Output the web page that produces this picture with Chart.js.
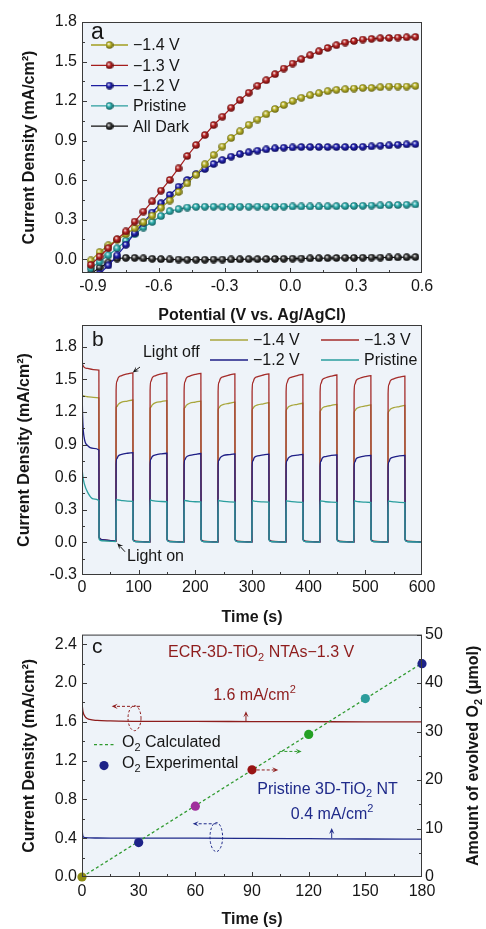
<!DOCTYPE html>
<html>
<head>
<meta charset="utf-8">
<script src="https://cdn.jsdelivr.net/npm/chart.js@4.4.1/dist/chart.umd.min.js"></script>
<style>
    body { margin: 0; background: #fff; width: 486px; height: 929px; position: relative; overflow: hidden; }
    canvas { position: absolute; left: 0; }
</style>
</head>
<body>
<canvas id="chartA" width="486" height="330" style="top:0"></canvas>
<canvas id="chartB" width="486" height="330" style="top:300px"></canvas>
<canvas id="chartC" width="486" height="309" style="top:620px"></canvas>
<script>
var FONT = '"Liberation Sans", Arial, Helvetica, sans-serif';
var INK = '#161616';
var PLOT_BG = '#eef3f9';

// ---- panel a: J-V curves
var potentials = [-0.91, -0.87, -0.83, -0.79, -0.75, -0.71, -0.67, -0.63, -0.59, -0.55, -0.51, -0.47, -0.43,
    -0.39, -0.35, -0.31, -0.27, -0.23, -0.19, -0.15, -0.11, -0.07, -0.03, 0.01, 0.05, 0.09, 0.13, 0.17,
    0.21, 0.25, 0.29, 0.33, 0.37, 0.41, 0.45, 0.49, 0.53, 0.57];
var jv14 = [-0.01, 0.053, 0.105, 0.145, 0.19, 0.235, 0.28, 0.33, 0.39, 0.445, 0.51, 0.575, 0.64,
    0.72, 0.79, 0.855, 0.92, 0.97, 1.02, 1.06, 1.10, 1.14, 1.17, 1.20, 1.225, 1.245, 1.26, 1.275,
    1.285, 1.29, 1.295, 1.30, 1.30, 1.305, 1.31, 1.31, 1.31, 1.315];
var jv13 = [-0.043, 0.02, 0.083, 0.152, 0.21, 0.285, 0.361, 0.439, 0.52, 0.601, 0.689, 0.783, 0.866,
    0.942, 1.018, 1.081, 1.149, 1.207, 1.263, 1.316, 1.358, 1.404, 1.447, 1.485, 1.518, 1.548, 1.578, 1.603,
    1.624, 1.644, 1.656, 1.667, 1.672, 1.677, 1.679, 1.682, 1.684, 1.687];
var jv12 = [-0.17, -0.111, -0.048, 0.028, 0.109, 0.197, 0.278, 0.354, 0.424, 0.487, 0.55, 0.601, 0.646,
    0.684, 0.722, 0.752, 0.778, 0.798, 0.811, 0.823, 0.833, 0.841, 0.846, 0.848, 0.851, 0.851, 0.851, 0.851,
    0.851, 0.851, 0.851, 0.853, 0.856, 0.861, 0.864, 0.868, 0.871, 0.873];
var jvPristine = [-0.07, -0.02, 0.03, 0.082, 0.14, 0.19, 0.24, 0.283, 0.327, 0.364, 0.38, 0.392, 0.397,
    0.398, 0.398, 0.398, 0.398, 0.398, 0.398, 0.399, 0.399, 0.399, 0.399, 0.40, 0.40, 0.40, 0.40, 0.401,
    0.402, 0.403, 0.404, 0.405, 0.407, 0.408, 0.41, 0.411, 0.413, 0.415];
var jvDark = [-0.11, -0.065, -0.025, 0.005, 0.01, 0.01, 0.006, 0.003, 0.0, -0.002, -0.003, -0.004, -0.004,
    -0.004, -0.003, -0.003, -0.002, -0.001, 0.0, 0.0, 0.001, 0.002, 0.003, 0.004, 0.005, 0.006, 0.007, 0.008,
    0.009, 0.01, 0.01, 0.011, 0.012, 0.012, 0.013, 0.014, 0.015, 0.016];
var potentialTicks = [-0.9, -0.6, -0.3, 0.0, 0.3, 0.6];
var jTicksA = [0.0, 0.3, 0.6, 0.9, 1.2, 1.5, 1.8];

// ---- panel b: chopped light transients
var times = [0, 0.5, 1.5, 4, 10, 20, 29.8, 30.2, 35, 59.8,
    60.2, 61.5, 64, 70, 80, 89.8, 90.2, 95, 119.8,
    120.2, 121.5, 124, 130, 140, 149.8, 150.2, 155, 179.8,
    180.2, 181.5, 184, 190, 200, 209.8, 210.2, 215, 239.8,
    240.2, 241.5, 244, 250, 260, 269.8, 270.2, 275, 299.8,
    300.2, 301.5, 304, 310, 320, 329.8, 330.2, 335, 359.8,
    360.2, 361.5, 364, 370, 380, 389.8, 390.2, 395, 419.8,
    420.2, 421.5, 424, 430, 440, 449.8, 450.2, 455, 479.8,
    480.2, 481.5, 484, 490, 500, 509.8, 510.2, 515, 539.8,
    540.2, 541.5, 544, 550, 560, 569.8, 570.2, 575, 599.8];
var it14 = [1.36, 1.355, 1.35, 1.345, 1.34, 1.335, 1.33, 0.04, 0.02, 0.01,
    1.24, 1.25, 1.27, 1.29, 1.30, 1.31, 0.03, 0.01, 0.005,
    1.235, 1.245, 1.265, 1.285, 1.295, 1.305, 0.03, 0.01, 0.005,
    1.23, 1.24, 1.26, 1.28, 1.29, 1.30, 0.03, 0.01, 0.005,
    1.22, 1.235, 1.255, 1.27, 1.28, 1.29, 0.03, 0.01, 0.005,
    1.215, 1.23, 1.25, 1.265, 1.275, 1.285, 0.03, 0.01, 0.005,
    1.21, 1.225, 1.245, 1.26, 1.27, 1.28, 0.03, 0.01, 0.005,
    1.20, 1.215, 1.235, 1.25, 1.26, 1.27, 0.03, 0.01, 0.005,
    1.195, 1.21, 1.23, 1.245, 1.255, 1.265, 0.03, 0.01, 0.005,
    1.19, 1.205, 1.225, 1.24, 1.25, 1.26, 0.03, 0.01, 0.005];
var it13 = [1.95, 1.67, 1.63, 1.61, 1.60, 1.59, 1.585, 0.05, 0.025, 0.012,
    1.40, 1.48, 1.515, 1.535, 1.55, 1.56, 0.03, 0.01, 0.005,
    1.40, 1.48, 1.515, 1.535, 1.55, 1.56, 0.03, 0.01, 0.005,
    1.395, 1.475, 1.51, 1.53, 1.545, 1.555, 0.03, 0.01, 0.005,
    1.39, 1.47, 1.505, 1.525, 1.54, 1.55, 0.03, 0.01, 0.005,
    1.39, 1.47, 1.505, 1.525, 1.54, 1.55, 0.03, 0.01, 0.005,
    1.385, 1.465, 1.50, 1.52, 1.535, 1.545, 0.03, 0.01, 0.005,
    1.38, 1.46, 1.495, 1.515, 1.53, 1.54, 0.03, 0.01, 0.005,
    1.375, 1.455, 1.49, 1.51, 1.525, 1.535, 0.03, 0.01, 0.005,
    1.37, 1.45, 1.485, 1.505, 1.52, 1.53, 0.03, 0.01, 0.005];
var it12 = [1.55, 1.30, 1.10, 0.96, 0.89, 0.865, 0.85, 0.045, 0.025, 0.012,
    0.72, 0.77, 0.795, 0.81, 0.82, 0.825, 0.025, 0.008, 0.003,
    0.715, 0.765, 0.79, 0.805, 0.815, 0.82, 0.025, 0.008, 0.003,
    0.71, 0.76, 0.785, 0.80, 0.81, 0.818, 0.025, 0.008, 0.003,
    0.705, 0.755, 0.78, 0.80, 0.808, 0.815, 0.025, 0.008, 0.003,
    0.70, 0.75, 0.78, 0.795, 0.805, 0.812, 0.025, 0.008, 0.003,
    0.70, 0.75, 0.775, 0.795, 0.803, 0.81, 0.025, 0.008, 0.003,
    0.695, 0.745, 0.775, 0.79, 0.80, 0.805, 0.025, 0.008, 0.003,
    0.69, 0.74, 0.77, 0.785, 0.795, 0.80, 0.025, 0.008, 0.003,
    0.69, 0.74, 0.77, 0.785, 0.795, 0.80, 0.025, 0.008, 0.003];
var itPristine = [0.70, 0.66, 0.61, 0.54, 0.46, 0.40, 0.385, 0.03, 0.015, 0.008,
    0.395, 0.392, 0.39, 0.385, 0.38, 0.378, 0.02, 0.006, 0.002,
    0.39, 0.388, 0.385, 0.38, 0.376, 0.374, 0.02, 0.006, 0.002,
    0.388, 0.386, 0.383, 0.378, 0.374, 0.372, 0.02, 0.006, 0.002,
    0.388, 0.385, 0.382, 0.377, 0.373, 0.371, 0.02, 0.006, 0.002,
    0.386, 0.384, 0.38, 0.376, 0.372, 0.37, 0.02, 0.006, 0.002,
    0.385, 0.383, 0.38, 0.375, 0.371, 0.369, 0.02, 0.006, 0.002,
    0.384, 0.382, 0.379, 0.374, 0.37, 0.368, 0.02, 0.006, 0.002,
    0.383, 0.381, 0.378, 0.374, 0.37, 0.367, 0.02, 0.006, 0.002,
    0.382, 0.38, 0.377, 0.373, 0.369, 0.366, 0.02, 0.006, 0.002];
var timeTicksB = [0, 100, 200, 300, 400, 500, 600];
var jTicksB = [-0.3, 0.0, 0.3, 0.6, 0.9, 1.2, 1.5, 1.8];

// ---- panel c: stability + O2 evolution
var stabTimes = [0, 0.4, 1, 2, 4, 8, 15, 30, 60, 90, 120, 150, 180];
var stabECR = [1.80, 1.72, 1.675, 1.645, 1.625, 1.615, 1.61, 1.605, 1.605, 1.603, 1.602, 1.60, 1.60];
var stabPristine = [0.50, 0.43, 0.41, 0.405, 0.403, 0.402, 0.401, 0.40, 0.40, 0.398, 0.395, 0.392, 0.39];
var o2Times = [0, 30, 60, 90, 120, 150, 180];
var o2Experimental = [0, 7.1, 14.6, 22.1, 29.4, 36.8, 44.0];
var o2CalcTimes = [0, 180];
var o2Calculated = [0, 44.1];
var o2Colors = ['#8e8c12', '#1d2288', '#a0309c', '#981414', '#24a024', '#2c9c9c', '#1d2288'];
var timeTicksC = [0, 30, 60, 90, 120, 150, 180];
var jTicksC = [0.0, 0.4, 0.8, 1.2, 1.6, 2.0, 2.4];
var o2Ticks = [0, 10, 20, 30, 40, 50];

function pts(xs, ys) {
    return xs.map(function (x, i) { return { x: x, y: ys[i] }; });
}

function makeBall(base, dark) {
    var c = document.createElement('canvas');
    c.width = 8;
    c.height = 8;
    var g = c.getContext('2d');
    var grad = g.createRadialGradient(3, 2.7, 0.2, 4, 4, 4);
    grad.addColorStop(0, '#ffffff');
    grad.addColorStop(0.4, base);
    grad.addColorStop(1, dark);
    g.fillStyle = grad;
    g.beginPath();
    g.arc(4, 4, 3.8, 0, Math.PI * 2);
    g.fill();
    return c;
}

function linScale(min, max, ticks, digits, title, pad, titlePad, size, isX, pos) {
    return {
        type: 'linear', position: pos, min: min, max: max, bounds: 'data',
        afterBuildTicks: function (sc) { sc.ticks = ticks.map(function (v) { return { value: v }; }); },
        ticks: {
            color: INK, font: { family: FONT, size: 16 }, padding: pad, autoSkip: false, maxRotation: 0,
            callback: function (v) { return Number(v).toFixed(digits); }
        },
        grid: { display: false, drawTicks: false },
        border: { display: false },
        title: title ? { display: true, text: title, color: INK, font: { family: FONT, size: 16, weight: 'bold' }, padding: titlePad } : { display: false },
        afterFit: function (sc) { if (isX) { sc.height = size; } else { sc.width = size; } }
    };
}

function richText(ctx, parts, x, y, size, color, align, weight) {
    var w = weight ? weight + ' ' : '';
    var widths = [];
    var total = 0;
    parts.forEach(function (p) {
        ctx.font = w + (p[1] ? Math.round(size * 0.68) : size) + 'px ' + FONT;
        var width = ctx.measureText(p[0]).width;
        widths.push(width);
        total += width;
    });
    var cx = align === 'center' ? x - total / 2 : x;
    ctx.fillStyle = color;
    ctx.textBaseline = 'middle';
    ctx.textAlign = 'left';
    parts.forEach(function (p, i) {
        ctx.font = w + (p[1] ? Math.round(size * 0.68) : size) + 'px ' + FONT;
        var dy = p[1] < 0 ? size * 0.32 : (p[1] > 0 ? -size * 0.36 : 0);
        ctx.fillText(p[0], cx, y + dy);
        cx += widths[i];
    });
}

function arrow(ctx, x1, y1, x2, y2, color, dash) {
    var ang = Math.atan2(y2 - y1, x2 - x1);
    var head = 6, half = 2.6;
    var c = Math.cos(ang), s = Math.sin(ang);
    ctx.save();
    ctx.strokeStyle = color;
    ctx.fillStyle = color;
    ctx.lineWidth = 1;
    ctx.setLineDash(dash ? [3, 2] : []);
    ctx.beginPath();
    ctx.moveTo(x1, y1);
    ctx.lineTo(x2 - c * head * 0.7, y2 - s * head * 0.7);
    ctx.stroke();
    ctx.setLineDash([]);
    ctx.beginPath();
    ctx.moveTo(x2, y2);
    ctx.lineTo(x2 - head * c + half * s, y2 - head * s - half * c);
    ctx.lineTo(x2 - head * 0.6 * c, y2 - head * 0.6 * s);
    ctx.lineTo(x2 - head * c - half * s, y2 - head * s + half * c);
    ctx.closePath();
    ctx.fill();
    ctx.restore();
}

function dashedEllipse(ctx, cx, cy, rx, ry, color) {
    ctx.save();
    ctx.strokeStyle = color;
    ctx.lineWidth = 1;
    ctx.setLineDash([2.5, 2]);
    ctx.beginPath();
    ctx.ellipse(cx, cy, rx, ry, 0, 0, Math.PI * 2);
    ctx.stroke();
    ctx.restore();
}

// plot background, frame and inward ticks
var framePlugin = {
    id: 'frame',
    beforeDraw: function (chart) {
        var a = chart.chartArea, ctx = chart.ctx;
        ctx.save();
        ctx.fillStyle = PLOT_BG;
        ctx.fillRect(a.left, a.top, a.right - a.left, a.bottom - a.top);
        ctx.restore();
    },
    afterDatasetsDraw: function (chart) {
        var a = chart.chartArea, ctx = chart.ctx;
        ctx.save();
        ctx.strokeStyle = '#3a3a3a';
        ctx.lineWidth = 1;
        ctx.strokeRect(a.left + 0.5, a.top + 0.5, a.right - a.left - 1, a.bottom - a.top - 1);
        Object.keys(chart.scales).forEach(function (id) {
            var sc = chart.scales[id];
            var vals = sc.ticks.map(function (t) { return t.value; });
            var marks = vals.map(function (v) { return [v, 5]; });
            for (var i = 0; i < vals.length - 1; i++) {
                marks.push([(vals[i] + vals[i + 1]) / 2, 3]);
            }
            ctx.beginPath();
            marks.forEach(function (m) {
                var p = Math.round(sc.getPixelForValue(m[0])) + 0.5;
                if (sc.isHorizontal()) {
                    if (p < a.left || p > a.right) return;
                    ctx.moveTo(p, a.bottom);
                    ctx.lineTo(p, a.bottom - m[1]);
                } else if (sc.position === 'right') {
                    if (p < a.top || p > a.bottom) return;
                    ctx.moveTo(a.right, p);
                    ctx.lineTo(a.right - m[1], p);
                } else {
                    if (p < a.top || p > a.bottom) return;
                    ctx.moveTo(a.left, p);
                    ctx.lineTo(a.left + m[1], p);
                }
            });
            ctx.stroke();
        });
        ctx.restore();
    }
};

// ---------------- panel a
var ballsA = {
    y14: makeBall('#bcb62c', '#5e5c0c'),
    y13: makeBall('#b82424', '#5a0808'),
    y12: makeBall('#2424b4', '#08084e'),
    pr: makeBall('#34b4b4', '#0c5656'),
    dk: makeBall('#3a3a3a', '#000000')
};

function jvSet(label, ys, color, ball, order) {
    return {
        label: label, data: pts(potentials, ys), borderColor: color, borderWidth: 1.2,
        pointStyle: ball, pointRadius: 4, order: order, tension: 0
    };
}

var legendA = {
    id: 'legendA',
    afterDraw: function (chart) {
        var a = chart.chartArea, ctx = chart.ctx;
        ctx.save();
        ctx.font = '23px ' + FONT;
        ctx.fillStyle = INK;
        ctx.textBaseline = 'middle';
        ctx.fillText('a', a.left + 9, a.top + 11);
        chart.data.datasets.forEach(function (ds, i) {
            var y = a.top + 23 + i * 20.3;
            ctx.strokeStyle = ds.borderColor;
            ctx.lineWidth = 1.3;
            ctx.beginPath();
            ctx.moveTo(a.left + 9, y);
            ctx.lineTo(a.left + 46, y);
            ctx.stroke();
            ctx.drawImage(ds.pointStyle, a.left + 27.5 - 4, y - 4);
            ctx.font = '16px ' + FONT;
            ctx.fillStyle = INK;
            ctx.fillText(ds.label, a.left + 51, y + 1);
        });
        ctx.restore();
    }
};

new Chart(document.getElementById('chartA'), {
    type: 'line',
    data: {
        datasets: [
            jvSet('\u22121.4 V', jv14, '#a29e1e', ballsA.y14, 1),
            jvSet('\u22121.3 V', jv13, '#a51c1c', ballsA.y13, 0),
            jvSet('\u22121.2 V', jv12, '#1c1ca0', ballsA.y12, 2),
            jvSet('Pristine', jvPristine, '#2a9e9e', ballsA.pr, 3),
            jvSet('All Dark', jvDark, '#111111', ballsA.dk, 4)
        ]
    },
    options: {
        responsive: false, animation: false, events: [],
        layout: { padding: { top: 22, right: 64, bottom: 0, left: 0 } },
        plugins: { legend: { display: false }, tooltip: { enabled: false } },
        scales: {
            x: linScale(-0.95, 0.6, potentialTicks, 1, 'Potential (V vs. Ag/AgCl)', 4, { top: 0, bottom: 5 }, 57, true, 'bottom'),
            y: linScale(-0.105, 1.8, jTicksA, 1, 'Current Density (mA/cm\u00b2)', 5, { top: 20, bottom: 0 }, 82, false, 'left')
        }
    },
    plugins: [framePlugin, legendA]
});

// ---------------- panel b
function itSet(label, ys, color, order) {
    return {
        label: label, data: pts(times, ys), borderColor: color, borderWidth: 1.3,
        pointRadius: 0, order: order, cubicInterpolationMode: 'monotone'
    };
}

var notesB = {
    id: 'notesB',
    afterDraw: function (chart) {
        var a = chart.chartArea, ctx = chart.ctx;
        var X = chart.scales.x, Y = chart.scales.y;
        ctx.save();
        ctx.font = '21px ' + FONT;
        ctx.fillStyle = INK;
        ctx.textBaseline = 'middle';
        ctx.fillText('b', a.left + 10, a.top + 15);
        var spots = [[128, 15], [239, 15], [128, 35], [239, 35]];
        var byLabel = {};
        chart.data.datasets.forEach(function (ds) { byLabel[ds.label] = ds; });
        ['\u22121.4 V', '\u22121.3 V', '\u22121.2 V', 'Pristine'].forEach(function (label, i) {
            var ds = byLabel[label], sx = a.left + spots[i][0], sy = a.top + spots[i][1];
            ctx.strokeStyle = ds.borderColor;
            ctx.lineWidth = 1.3;
            ctx.beginPath();
            ctx.moveTo(sx, sy);
            ctx.lineTo(sx + 38, sy);
            ctx.stroke();
            ctx.font = '16px ' + FONT;
            ctx.fillStyle = INK;
            ctx.fillText(label, sx + 43, sy + 1);
        });
        ctx.font = '16px ' + FONT;
        ctx.fillText('Light off', X.getPixelForValue(107.6), Y.getPixelForValue(1.75));
        arrow(ctx, X.getPixelForValue(102.3), Y.getPixelForValue(1.613), X.getPixelForValue(89.5), Y.getPixelForValue(1.564), INK, false);
        ctx.fillStyle = INK;
        ctx.font = '16px ' + FONT;
        ctx.fillText('Light on', X.getPixelForValue(79.4), Y.getPixelForValue(-0.135));
        arrow(ctx, X.getPixelForValue(75.9), Y.getPixelForValue(-0.086), X.getPixelForValue(62.3), Y.getPixelForValue(-0.009), INK, false);
        ctx.restore();
    }
};

new Chart(document.getElementById('chartB'), {
    type: 'line',
    data: {
        datasets: [
            itSet('\u22121.4 V', it14, '#a8a63c', 3),
            itSet('\u22121.3 V', it13, '#a42c2a', 2),
            itSet('\u22121.2 V', it12, '#1e1e86', 1),
            itSet('Pristine', itPristine, '#2a9e9e', 0)
        ]
    },
    options: {
        responsive: false, animation: false, events: [],
        layout: { padding: { top: 25, right: 64, bottom: 0, left: 0 } },
        plugins: { legend: { display: false }, tooltip: { enabled: false } },
        scales: {
            x: linScale(0, 600, timeTicksB, 0, 'Time (s)', 3, { top: 0, bottom: 3 }, 55, true, 'bottom'),
            y: linScale(-0.3, 2.0, jTicksB, 1, 'Current Density (mA/cm\u00b2)', 5, { top: 15, bottom: 0 }, 82, false, 'left')
        }
    },
    plugins: [framePlugin, notesB]
});

// ---------------- panel c
var RED_C = '#8e1c1c';
var BLUE_C = '#1f2a8a';
var GREEN_C = '#2f9a2f';

var notesC = {
    id: 'notesC',
    afterDraw: function (chart) {
        var a = chart.chartArea, ctx = chart.ctx;
        var X = chart.scales.x, Y = chart.scales.y;
        function px(t) { return X.getPixelForValue(t); }
        function py(j) { return Y.getPixelForValue(j); }
        ctx.save();
        ctx.font = '21px ' + FONT;
        ctx.fillStyle = INK;
        ctx.textBaseline = 'middle';
        ctx.fillText('c', a.left + 10, a.top + 13);

        richText(ctx, [['ECR-3D-TiO', 0], ['2', -1], [' NTAs\u22121.3 V', 0]], px(94.8), py(2.31), 16, RED_C, 'center');
        richText(ctx, [['1.6 mA/cm', 0], ['2', 1]], px(91.3), py(1.87), 16, RED_C, 'center');
        arrow(ctx, px(86.8), py(1.60), px(86.8), py(1.71), RED_C, false);
        arrow(ctx, px(30.7), py(1.76), px(15.7), py(1.76), RED_C, true);
        dashedEllipse(ctx, px(27.8), py(1.638), 6.5, 12.5, RED_C);

        richText(ctx, [['Pristine 3D-TiO', 0], ['2', -1], [' NT', 0]], px(130), py(0.904), 16, BLUE_C, 'center');
        richText(ctx, [['0.4 mA/cm', 0], ['2', 1]], px(132.4), py(0.643), 16, BLUE_C, 'center');
        arrow(ctx, px(132.2), py(0.40), px(132.2), py(0.505), BLUE_C, false);
        arrow(ctx, px(71.3), py(0.549), px(58.6), py(0.549), BLUE_C, true);
        dashedEllipse(ctx, px(71.1), py(0.412), 6.3, 14.5, BLUE_C);

        arrow(ctx, px(92.5), py(1.104), px(103.9), py(1.104), RED_C, true);
        arrow(ctx, px(104.5), py(1.295), px(116.3), py(1.295), GREEN_C, true);

        // legend
        ctx.strokeStyle = GREEN_C;
        ctx.lineWidth = 1.3;
        ctx.setLineDash([3, 2.5]);
        ctx.beginPath();
        ctx.moveTo(a.left + 12, a.top + 110);
        ctx.lineTo(a.left + 33, a.top + 110);
        ctx.stroke();
        ctx.setLineDash([]);
        richText(ctx, [['O', 0], ['2', -1], [' Calculated', 0]], a.left + 40, a.top + 108, 16, INK, 'left');
        ctx.fillStyle = '#1d2288';
        ctx.beginPath();
        ctx.arc(a.left + 22, a.top + 131, 4.6, 0, Math.PI * 2);
        ctx.fill();
        richText(ctx, [['O', 0], ['2', -1], [' Experimental', 0]], a.left + 40, a.top + 129, 16, INK, 'left');

        // right axis title
        ctx.translate(474, (a.top + a.bottom) / 2);
        ctx.rotate(-Math.PI / 2);
        richText(ctx, [['Amount of evolved O', 0], ['2', -1], [' (\u03bcmol)', 0]], 0, 0, 16, INK, 'center', 'bold');
        ctx.restore();
    }
};

new Chart(document.getElementById('chartC'), {
    type: 'line',
    data: {
        datasets: [
            {
                label: 'O2 Experimental', data: pts(o2Times, o2Experimental), yAxisID: 'y2', showLine: false,
                pointRadius: 4.6, pointBackgroundColor: o2Colors, pointBorderWidth: 0, order: 0, clip: false
            },
            {
                label: 'O2 Calculated', data: pts(o2CalcTimes, o2Calculated), yAxisID: 'y2', borderColor: GREEN_C,
                borderWidth: 1.3, borderDash: [3, 2.5], pointRadius: 0, order: 1
            },
            {
                label: 'ECR-3D-TiO2 NTAs -1.3 V', data: pts(stabTimes, stabECR), yAxisID: 'y', borderColor: RED_C,
                borderWidth: 1.3, pointRadius: 0, order: 2, cubicInterpolationMode: 'monotone'
            },
            {
                label: 'Pristine 3D-TiO2 NT', data: pts(stabTimes, stabPristine), yAxisID: 'y', borderColor: BLUE_C,
                borderWidth: 1.3, pointRadius: 0, order: 3, cubicInterpolationMode: 'monotone'
            }
        ]
    },
    options: {
        responsive: false, animation: false, events: [],
        layout: { padding: { top: 8, right: 0, bottom: 0, left: 0 } },
        plugins: { legend: { display: false }, tooltip: { enabled: false } },
        scales: {
            x: linScale(0, 180, timeTicksC, 0, 'Time (s)', 5, { top: 0, bottom: 0 }, 52, true, 'bottom'),
            y: linScale(0, 2.5, jTicksC, 1, 'Current Density (mA/cm\u00b2)', 5, { top: 20, bottom: 0 }, 82, false, 'left'),
            y2: linScale(0, 50, o2Ticks, 0, null, 3, null, 64, false, 'right')
        }
    },
    plugins: [framePlugin, notesC]
});
</script>
</body>
</html>
